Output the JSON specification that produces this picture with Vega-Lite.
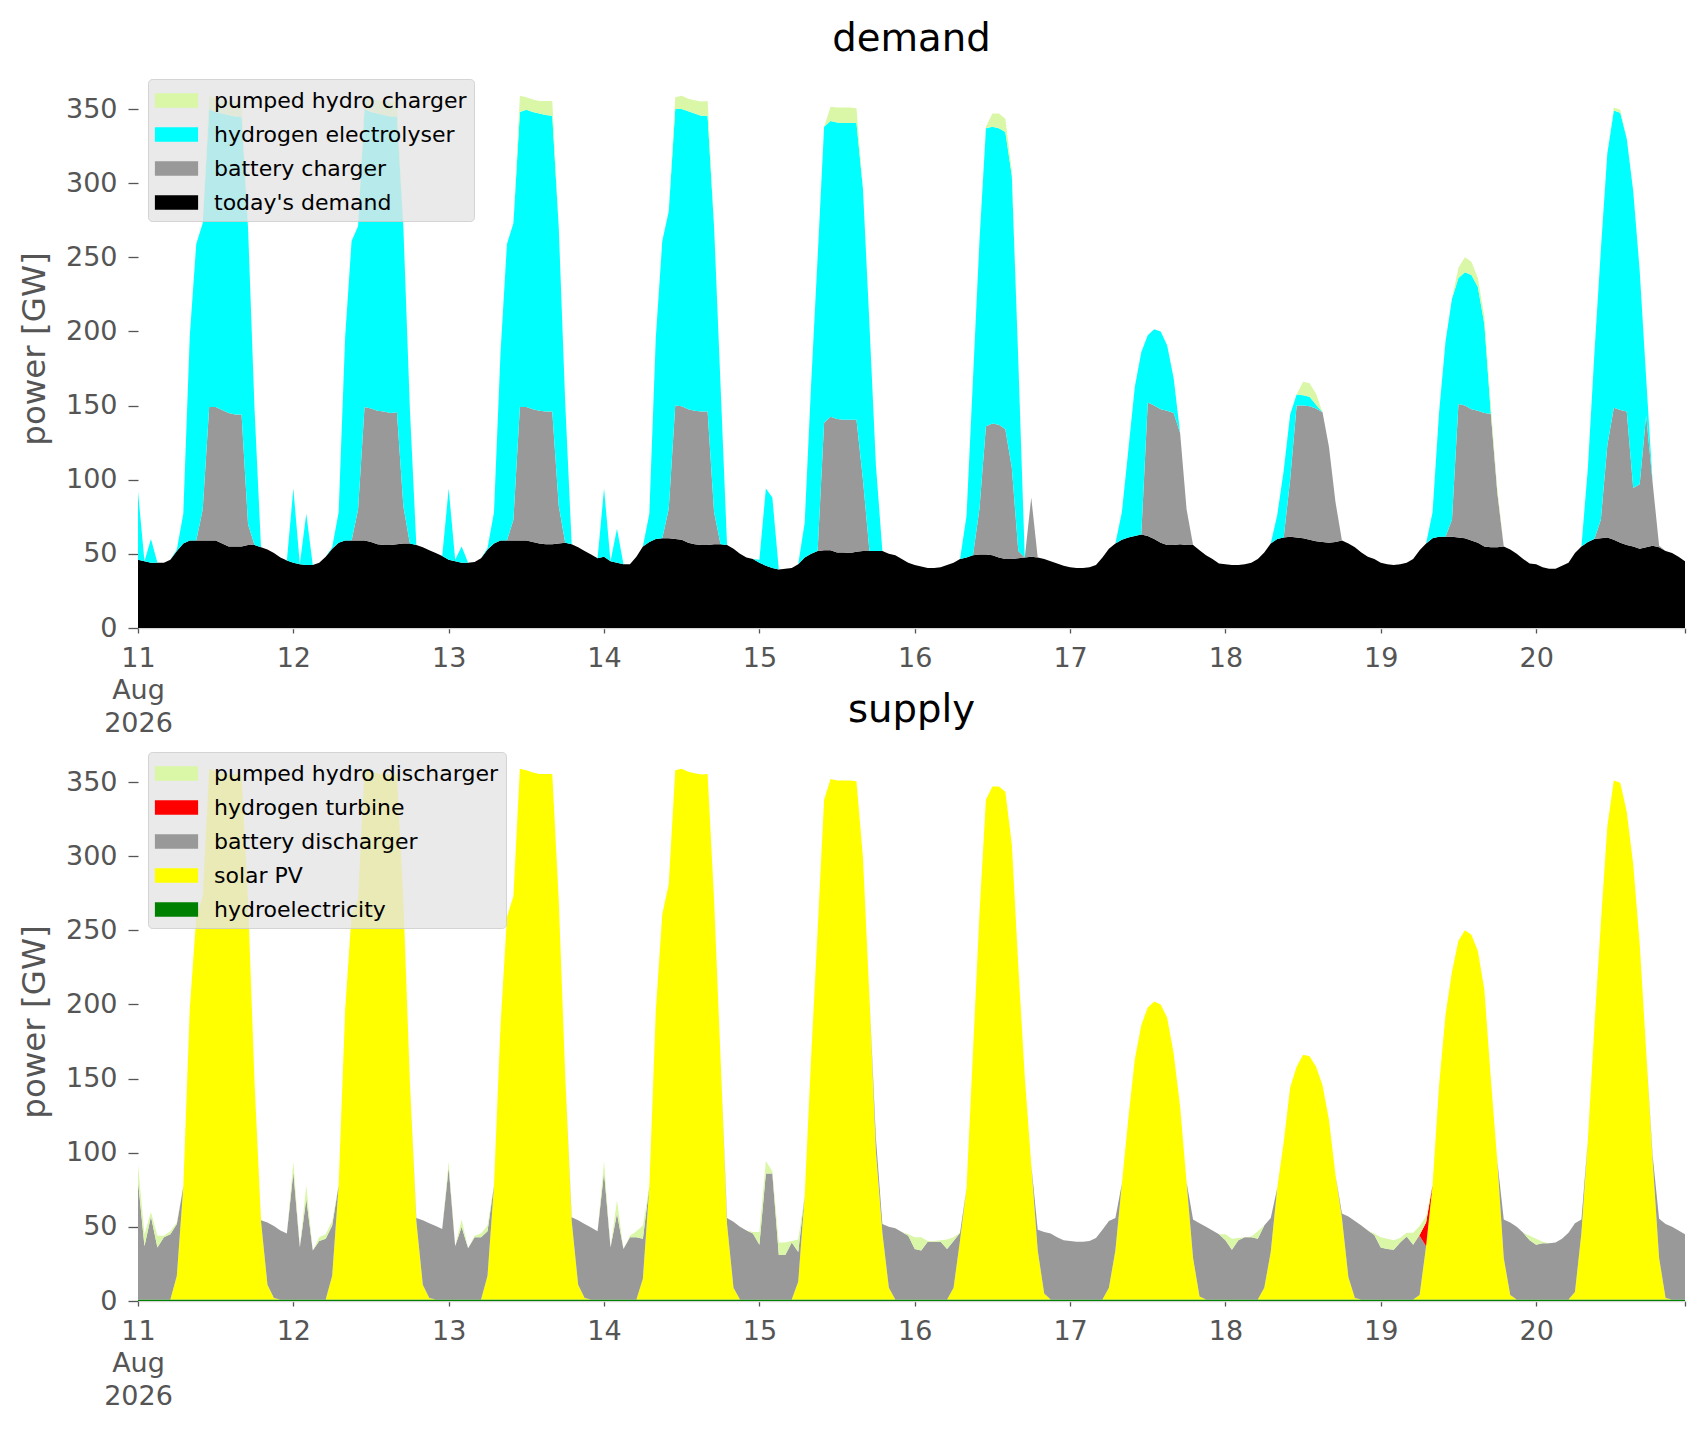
{
  "$schema": "https://vega.github.io/schema/vega-lite/v6.json",
  "background": "white",
  "padding": {"left": 18, "top": 20, "right": 20, "bottom": 10},
  "config": {
    "view": {"stroke": null},
    "font": "DejaVu Sans",
    "axis": {
      "labelFont": "DejaVu Sans",
      "titleFont": "DejaVu Sans",
      "labelFontSize": 27,
      "labelColor": "#555555",
      "tickColor": "#555555",
      "tickWidth": 1.3,
      "grid": false,
      "titleFontWeight": "normal"
    },
    "title": {"font": "DejaVu Sans", "fontSize": 38.6, "fontWeight": "normal", "color": "#000000", "anchor": "middle", "frame": "group"},
    "legend": {
      "orient": "top-left",
      "offset": 10,
      "title": null,
      "padding": 7,
      "fillColor": "rgba(229,229,229,0.8)",
      "strokeColor": "rgba(204,204,204,0.8)",
      "cornerRadius": 4,
      "labelFont": "DejaVu Sans",
      "labelFontSize": 22,
      "labelColor": "#000000",
      "labelLimit": 0,
      "symbolType": "M-1.5,-0.5H1.5V0.5H-1.5Z",
      "symbolSize": 830,
      "symbolOffset": 7,
      "symbolStrokeWidth": 0,
      "symbolOpacity": 1,
      "labelOffset": 23,
      "rowPadding": 8
    }
  },
  "data": {
    "values": [
      {"t":"2026-08-11T00:00","d":46,"b":0,"e":46,"p":0,"w":1,"s":0,"k":80,"r":0,"g":11},
      {"t":"2026-08-11T01:00","d":45,"b":0,"e":0,"p":0,"w":1,"s":0,"k":36,"r":0,"g":8},
      {"t":"2026-08-11T02:00","d":44,"b":0,"e":16,"p":0,"w":1,"s":0,"k":56,"r":0,"g":3},
      {"t":"2026-08-11T03:00","d":44,"b":0,"e":0,"p":0,"w":1,"s":0,"k":35,"r":0,"g":8},
      {"t":"2026-08-11T04:00","d":44,"b":0,"e":0,"p":0,"w":1,"s":0,"k":42,"r":0,"g":1},
      {"t":"2026-08-11T05:00","d":46,"b":0,"e":0,"p":0,"w":1,"s":0,"k":44,"r":0,"g":2},
      {"t":"2026-08-11T06:00","d":52,"b":0,"e":1,"p":0,"w":1,"s":16,"k":35,"r":0,"g":1},
      {"t":"2026-08-11T07:00","d":57,"b":0,"e":20,"p":0,"w":1,"s":76,"k":0,"r":0,"g":0},
      {"t":"2026-08-11T08:00","d":59,"b":0,"e":138,"p":0,"w":1,"s":196,"k":0,"r":0,"g":0},
      {"t":"2026-08-11T09:00","d":59,"b":0,"e":200,"p":0,"w":1,"s":258,"k":0,"r":0,"g":0},
      {"t":"2026-08-11T10:00","d":59,"b":21,"e":193,"p":0,"w":1,"s":272,"k":0,"r":0,"g":0},
      {"t":"2026-08-11T11:00","d":59,"b":90,"e":201,"p":9,"w":1,"s":358,"k":0,"r":0,"g":0},
      {"t":"2026-08-11T12:00","d":59,"b":90,"e":199,"p":9,"w":1,"s":356,"k":0,"r":0,"g":0},
      {"t":"2026-08-11T13:00","d":57,"b":90,"e":200,"p":9,"w":1,"s":355,"k":0,"r":0,"g":0},
      {"t":"2026-08-11T14:00","d":55,"b":90,"e":201,"p":9,"w":1,"s":354,"k":0,"r":0,"g":0},
      {"t":"2026-08-11T15:00","d":55,"b":89,"e":201,"p":10,"w":1,"s":354,"k":0,"r":0,"g":0},
      {"t":"2026-08-11T16:00","d":55,"b":89,"e":201,"p":10,"w":1,"s":354,"k":0,"r":0,"g":0},
      {"t":"2026-08-11T17:00","d":56,"b":14,"e":200,"p":0,"w":1,"s":269,"k":0,"r":0,"g":0},
      {"t":"2026-08-11T18:00","d":56,"b":0,"e":92,"p":0,"w":1,"s":147,"k":0,"r":0,"g":0},
      {"t":"2026-08-11T19:00","d":54.5,"b":0,"e":0,"p":0,"w":1,"s":53,"k":0.5,"r":0,"g":0},
      {"t":"2026-08-11T20:00","d":53,"b":0,"e":0,"p":0,"w":1,"s":10,"k":42,"r":0,"g":0},
      {"t":"2026-08-11T21:00","d":50.5,"b":0,"e":0,"p":0,"w":1,"s":1,"k":48.5,"r":0,"g":0},
      {"t":"2026-08-11T22:00","d":47.5,"b":0,"e":0,"p":0,"w":1,"s":0,"k":46.5,"r":0,"g":0},
      {"t":"2026-08-11T23:00","d":45.5,"b":0,"e":0,"p":0,"w":1,"s":0,"k":44.5,"r":0,"g":0},
      {"t":"2026-08-12T00:00","d":44,"b":0,"e":50,"p":0,"w":1,"s":0,"k":86,"r":0,"g":7},
      {"t":"2026-08-12T01:00","d":43,"b":0,"e":0,"p":0,"w":1,"s":0,"k":35,"r":0,"g":0},
      {"t":"2026-08-12T02:00","d":42.5,"b":0,"e":34.5,"p":0,"w":1,"s":0,"k":68,"r":0,"g":9},
      {"t":"2026-08-12T03:00","d":42.5,"b":0,"e":0,"p":0,"w":1,"s":0,"k":33,"r":0,"g":0},
      {"t":"2026-08-12T04:00","d":44,"b":0,"e":0,"p":0,"w":1,"s":0,"k":39.5,"r":0,"g":2.5},
      {"t":"2026-08-12T05:00","d":48,"b":0,"e":0,"p":0,"w":1,"s":0,"k":41,"r":0,"g":3},
      {"t":"2026-08-12T06:00","d":53.5,"b":0,"e":1,"p":0,"w":1,"s":16,"k":34,"r":0,"g":3},
      {"t":"2026-08-12T07:00","d":57.5,"b":0,"e":20.5,"p":0,"w":1,"s":77,"k":0,"r":0,"g":0},
      {"t":"2026-08-12T08:00","d":59,"b":0,"e":137,"p":0,"w":1,"s":195,"k":0,"r":0,"g":0},
      {"t":"2026-08-12T09:00","d":59,"b":0,"e":202,"p":0,"w":1,"s":260,"k":0,"r":0,"g":0},
      {"t":"2026-08-12T10:00","d":59,"b":21,"e":191,"p":0,"w":1,"s":270,"k":0,"r":0,"g":0},
      {"t":"2026-08-12T11:00","d":59,"b":90,"e":201,"p":9,"w":1,"s":358,"k":0,"r":0,"g":0},
      {"t":"2026-08-12T12:00","d":58,"b":90,"e":200,"p":9,"w":1,"s":356,"k":0,"r":0,"g":0},
      {"t":"2026-08-12T13:00","d":56.5,"b":90,"e":200.5,"p":9,"w":1,"s":355,"k":0,"r":0,"g":0},
      {"t":"2026-08-12T14:00","d":56,"b":90,"e":200,"p":9,"w":1,"s":354,"k":0,"r":0,"g":0},
      {"t":"2026-08-12T15:00","d":56,"b":89,"e":200,"p":10,"w":1,"s":354,"k":0,"r":0,"g":0},
      {"t":"2026-08-12T16:00","d":56.5,"b":89,"e":199.5,"p":10,"w":1,"s":354,"k":0,"r":0,"g":0},
      {"t":"2026-08-12T17:00","d":57,"b":25,"e":188,"p":0,"w":1,"s":269,"k":0,"r":0,"g":0},
      {"t":"2026-08-12T18:00","d":57,"b":0,"e":91,"p":0,"w":1,"s":147,"k":0,"r":0,"g":0},
      {"t":"2026-08-12T19:00","d":56,"b":0,"e":0,"p":0,"w":1,"s":53,"k":2,"r":0,"g":0},
      {"t":"2026-08-12T20:00","d":54.5,"b":0,"e":0,"p":0,"w":1,"s":10,"k":43.5,"r":0,"g":0},
      {"t":"2026-08-12T21:00","d":52.5,"b":0,"e":0,"p":0,"w":1,"s":1,"k":50.5,"r":0,"g":0},
      {"t":"2026-08-12T22:00","d":50.5,"b":0,"e":0,"p":0,"w":1,"s":0,"k":49.5,"r":0,"g":0},
      {"t":"2026-08-12T23:00","d":48.5,"b":0,"e":0,"p":0,"w":1,"s":0,"k":47.5,"r":0,"g":0},
      {"t":"2026-08-13T00:00","d":46,"b":0,"e":48,"p":0,"w":1,"s":0,"k":89,"r":0,"g":4},
      {"t":"2026-08-13T01:00","d":45,"b":0,"e":1,"p":0,"w":1,"s":0,"k":36,"r":0,"g":0},
      {"t":"2026-08-13T02:00","d":44,"b":0,"e":11,"p":0,"w":1,"s":0,"k":49,"r":0,"g":5},
      {"t":"2026-08-13T03:00","d":44,"b":0,"e":0,"p":0,"w":1,"s":0,"k":34.5,"r":0,"g":0},
      {"t":"2026-08-13T04:00","d":44.5,"b":0,"e":0,"p":0,"w":1,"s":0,"k":42,"r":0,"g":1},
      {"t":"2026-08-13T05:00","d":47,"b":0,"e":0,"p":0,"w":1,"s":0,"k":42,"r":0,"g":2.5},
      {"t":"2026-08-13T06:00","d":53,"b":0,"e":1,"p":0,"w":1,"s":16,"k":30,"r":0,"g":4},
      {"t":"2026-08-13T07:00","d":57,"b":0,"e":21,"p":0,"w":1,"s":77,"k":0,"r":0,"g":0},
      {"t":"2026-08-13T08:00","d":59,"b":0,"e":126,"p":0,"w":1,"s":184,"k":0,"r":0,"g":0},
      {"t":"2026-08-13T09:00","d":59,"b":0,"e":200,"p":0,"w":1,"s":258,"k":0,"r":0,"g":0},
      {"t":"2026-08-13T10:00","d":59,"b":14,"e":200,"p":0,"w":1,"s":272,"k":0,"r":0,"g":0},
      {"t":"2026-08-13T11:00","d":59,"b":90,"e":199,"p":11,"w":1,"s":358,"k":0,"r":0,"g":0},
      {"t":"2026-08-13T12:00","d":59,"b":90,"e":200.5,"p":8.5,"w":1,"s":357,"k":0,"r":0,"g":0},
      {"t":"2026-08-13T13:00","d":58,"b":89.5,"e":200.5,"p":8.5,"w":1,"s":355.5,"k":0,"r":0,"g":0},
      {"t":"2026-08-13T14:00","d":57,"b":89.5,"e":200.5,"p":8.5,"w":1,"s":354.5,"k":0,"r":0,"g":0},
      {"t":"2026-08-13T15:00","d":56.5,"b":89.5,"e":200,"p":9.5,"w":1,"s":354.5,"k":0,"r":0,"g":0},
      {"t":"2026-08-13T16:00","d":56.5,"b":89.5,"e":199.5,"p":10,"w":1,"s":354.5,"k":0,"r":0,"g":0},
      {"t":"2026-08-13T17:00","d":57,"b":25.5,"e":188,"p":0,"w":1,"s":269.5,"k":0,"r":0,"g":0},
      {"t":"2026-08-13T18:00","d":57.5,"b":0,"e":94.5,"p":0,"w":1,"s":151,"k":0,"r":0,"g":0},
      {"t":"2026-08-13T19:00","d":56.5,"b":0,"e":0,"p":0,"w":1,"s":53,"k":2.5,"r":0,"g":0},
      {"t":"2026-08-13T20:00","d":54.5,"b":0,"e":0,"p":0,"w":1,"s":10,"k":43.5,"r":0,"g":0},
      {"t":"2026-08-13T21:00","d":52,"b":0,"e":0,"p":0,"w":1,"s":1,"k":50,"r":0,"g":0},
      {"t":"2026-08-13T22:00","d":49.5,"b":0,"e":0,"p":0,"w":1,"s":0,"k":48.5,"r":0,"g":0},
      {"t":"2026-08-13T23:00","d":47,"b":0,"e":0,"p":0,"w":1,"s":0,"k":46,"r":0,"g":0},
      {"t":"2026-08-14T00:00","d":48,"b":0,"e":46,"p":0,"w":1,"s":0,"k":86,"r":0,"g":7},
      {"t":"2026-08-14T01:00","d":45,"b":0,"e":0,"p":0,"w":1,"s":0,"k":35,"r":0,"g":0},
      {"t":"2026-08-14T02:00","d":44,"b":0,"e":23,"p":0,"w":1,"s":0,"k":58,"r":0,"g":9},
      {"t":"2026-08-14T03:00","d":43,"b":0,"e":0,"p":0,"w":1,"s":0,"k":34,"r":0,"g":0},
      {"t":"2026-08-14T04:00","d":43,"b":0,"e":0,"p":0,"w":1,"s":0,"k":42,"r":0,"g":1},
      {"t":"2026-08-14T05:00","d":48,"b":0,"e":0,"p":0,"w":1,"s":0,"k":42,"r":0,"g":4},
      {"t":"2026-08-14T06:00","d":55,"b":0,"e":0,"p":0,"w":1,"s":14,"k":27,"r":0,"g":9},
      {"t":"2026-08-14T07:00","d":58,"b":0,"e":19,"p":0,"w":1,"s":76,"k":0,"r":0,"g":0},
      {"t":"2026-08-14T08:00","d":60,"b":0,"e":136,"p":0,"w":1,"s":195,"k":0,"r":0,"g":0},
      {"t":"2026-08-14T09:00","d":60.5,"b":0,"e":200.5,"p":0,"w":1,"s":260,"k":0,"r":0,"g":0},
      {"t":"2026-08-14T10:00","d":60.5,"b":20,"e":200.5,"p":0,"w":1,"s":280,"k":0,"r":0,"g":0},
      {"t":"2026-08-14T11:00","d":60,"b":90,"e":200,"p":8,"w":1,"s":357,"k":0,"r":0,"g":0},
      {"t":"2026-08-14T12:00","d":59.5,"b":90,"e":200.5,"p":9,"w":1,"s":358,"k":0,"r":0,"g":0},
      {"t":"2026-08-14T13:00","d":57.5,"b":90,"e":201,"p":8.5,"w":1,"s":356,"k":0,"r":0,"g":0},
      {"t":"2026-08-14T14:00","d":56.5,"b":90,"e":200.5,"p":9,"w":1,"s":355,"k":0,"r":0,"g":0},
      {"t":"2026-08-14T15:00","d":56,"b":90,"e":199.5,"p":9.5,"w":1,"s":354,"k":0,"r":0,"g":0},
      {"t":"2026-08-14T16:00","d":56,"b":90,"e":199.5,"p":10,"w":1,"s":354.5,"k":0,"r":0,"g":0},
      {"t":"2026-08-14T17:00","d":56.5,"b":21.5,"e":192.5,"p":0,"w":1,"s":269.5,"k":0,"r":0,"g":0},
      {"t":"2026-08-14T18:00","d":56.5,"b":0,"e":107,"p":0,"w":1,"s":162.5,"k":0,"r":0,"g":0},
      {"t":"2026-08-14T19:00","d":56,"b":0,"e":0,"p":0,"w":1,"s":51,"k":4,"r":0,"g":0},
      {"t":"2026-08-14T20:00","d":53.5,"b":0,"e":0,"p":0,"w":1,"s":8,"k":44.5,"r":0,"g":0},
      {"t":"2026-08-14T21:00","d":50,"b":0,"e":0,"p":0,"w":1,"s":0,"k":49,"r":0,"g":0},
      {"t":"2026-08-14T22:00","d":47.5,"b":0,"e":0,"p":0,"w":1,"s":0,"k":46.5,"r":0,"g":0},
      {"t":"2026-08-14T23:00","d":46.5,"b":0,"e":0,"p":0,"w":1,"s":0,"k":44.5,"r":0,"g":1},
      {"t":"2026-08-15T00:00","d":44,"b":0,"e":2,"p":0,"w":1,"s":0,"k":37,"r":0,"g":8.5},
      {"t":"2026-08-15T01:00","d":42,"b":0,"e":52,"p":0,"w":1,"s":0,"k":85,"r":0,"g":8.5},
      {"t":"2026-08-15T02:00","d":40.5,"b":0,"e":47.5,"p":0,"w":1,"s":0,"k":85,"r":0,"g":1.5},
      {"t":"2026-08-15T03:00","d":39.5,"b":0,"e":0,"p":0,"w":1,"s":0,"k":30,"r":0,"g":8.5},
      {"t":"2026-08-15T04:00","d":40,"b":0,"e":0,"p":0,"w":1,"s":0,"k":30,"r":0,"g":8.5},
      {"t":"2026-08-15T05:00","d":40.5,"b":0,"e":0,"p":0,"w":1,"s":0,"k":38.5,"r":0,"g":1},
      {"t":"2026-08-15T06:00","d":43,"b":0,"e":0,"p":0,"w":1,"s":12,"k":20,"r":0,"g":8.5},
      {"t":"2026-08-15T07:00","d":47.5,"b":0,"e":23.5,"p":0,"w":1,"s":70,"k":0,"r":0,"g":0},
      {"t":"2026-08-15T08:00","d":50,"b":0,"e":115,"p":0,"w":1,"s":164,"k":0,"r":0,"g":0},
      {"t":"2026-08-15T09:00","d":52,"b":0,"e":198,"p":0,"w":1,"s":249,"k":0,"r":0,"g":0},
      {"t":"2026-08-15T10:00","d":52.5,"b":86,"e":199.5,"p":0,"w":1,"s":337,"k":0,"r":0,"g":0},
      {"t":"2026-08-15T11:00","d":52.5,"b":90,"e":199.5,"p":9.5,"w":1,"s":351,"k":0,"r":0,"g":0},
      {"t":"2026-08-15T12:00","d":51,"b":90,"e":200,"p":10,"w":1,"s":350,"k":0,"r":0,"g":0},
      {"t":"2026-08-15T13:00","d":51,"b":89.5,"e":200,"p":10.5,"w":1,"s":350,"k":0,"r":0,"g":0},
      {"t":"2026-08-15T14:00","d":50.5,"b":90,"e":200,"p":10.5,"w":1,"s":350,"k":0,"r":0,"g":0},
      {"t":"2026-08-15T15:00","d":51.5,"b":89,"e":200,"p":10,"w":1,"s":349.5,"k":0,"r":0,"g":0},
      {"t":"2026-08-15T16:00","d":52,"b":48,"e":196,"p":0,"w":1,"s":298,"k":0,"r":0,"g":0},
      {"t":"2026-08-15T17:00","d":52,"b":0,"e":153,"p":0,"w":1,"s":204,"k":0,"r":0,"g":0},
      {"t":"2026-08-15T18:00","d":52,"b":0,"e":58,"p":0,"w":1,"s":100,"k":9,"r":0,"g":0},
      {"t":"2026-08-15T19:00","d":52,"b":0,"e":0,"p":0,"w":1,"s":45,"k":6,"r":0,"g":0},
      {"t":"2026-08-15T20:00","d":50,"b":0,"e":0,"p":0,"w":1,"s":8,"k":41,"r":0,"g":0},
      {"t":"2026-08-15T21:00","d":49,"b":0,"e":0,"p":0,"w":1,"s":0,"k":48,"r":0,"g":0},
      {"t":"2026-08-15T22:00","d":46.5,"b":0,"e":0,"p":0,"w":1,"s":0,"k":45.5,"r":0,"g":0},
      {"t":"2026-08-15T23:00","d":44,"b":0,"e":0,"p":0,"w":1,"s":0,"k":43,"r":0,"g":1},
      {"t":"2026-08-16T00:00","d":42.5,"b":0,"e":0,"p":0,"w":1,"s":0,"k":34,"r":0,"g":8},
      {"t":"2026-08-16T01:00","d":41.5,"b":0,"e":0,"p":0,"w":1,"s":0,"k":33,"r":0,"g":9},
      {"t":"2026-08-16T02:00","d":40.5,"b":0,"e":0,"p":0,"w":1,"s":0,"k":39,"r":0,"g":0.5},
      {"t":"2026-08-16T03:00","d":40.5,"b":0,"e":0,"p":0,"w":1,"s":0,"k":39,"r":0,"g":0.5},
      {"t":"2026-08-16T04:00","d":41,"b":0,"e":0,"p":0,"w":1,"s":0,"k":39,"r":0,"g":1},
      {"t":"2026-08-16T05:00","d":42.5,"b":0,"e":0,"p":0,"w":1,"s":0,"k":34,"r":0,"g":6.5},
      {"t":"2026-08-16T06:00","d":44,"b":0,"e":0,"p":0,"w":1,"s":8,"k":31.5,"r":0,"g":2.5},
      {"t":"2026-08-16T07:00","d":46.5,"b":0,"e":0,"p":0,"w":1,"s":40,"k":5,"r":0,"g":0},
      {"t":"2026-08-16T08:00","d":47.5,"b":0,"e":28,"p":0,"w":1,"s":75,"k":0,"r":0,"g":0},
      {"t":"2026-08-16T09:00","d":49,"b":0,"e":119,"p":0,"w":1,"s":167,"k":0,"r":0,"g":0},
      {"t":"2026-08-16T10:00","d":49.5,"b":31,"e":180.5,"p":0,"w":1,"s":260,"k":0,"r":0,"g":0},
      {"t":"2026-08-16T11:00","d":49.5,"b":86.5,"e":201,"p":1,"w":1,"s":337,"k":0,"r":0,"g":0},
      {"t":"2026-08-16T12:00","d":49,"b":89,"e":200,"p":9,"w":1,"s":346,"k":0,"r":0,"g":0},
      {"t":"2026-08-16T13:00","d":47.5,"b":89.5,"e":200,"p":10,"w":1,"s":346,"k":0,"r":0,"g":0},
      {"t":"2026-08-16T14:00","d":46.5,"b":87.5,"e":200.5,"p":9,"w":1,"s":342.5,"k":0,"r":0,"g":0},
      {"t":"2026-08-16T15:00","d":46.5,"b":61.5,"e":197,"p":3,"w":1,"s":307,"k":0,"r":0,"g":0},
      {"t":"2026-08-16T16:00","d":47,"b":5,"e":128,"p":0,"w":1,"s":225,"k":0,"r":0,"g":0},
      {"t":"2026-08-16T17:00","d":47.5,"b":0,"e":0,"p":0,"w":1,"s":150,"k":0,"r":0,"g":0},
      {"t":"2026-08-16T18:00","d":48,"b":40,"e":0,"p":0,"w":1,"s":91,"k":0,"r":0,"g":0},
      {"t":"2026-08-16T19:00","d":47.5,"b":0,"e":0,"p":0,"w":1,"s":33,"k":14,"r":0,"g":0},
      {"t":"2026-08-16T20:00","d":46.5,"b":0,"e":0,"p":0,"w":1,"s":4,"k":41.5,"r":0,"g":0},
      {"t":"2026-08-16T21:00","d":45,"b":0,"e":0,"p":0,"w":1,"s":0,"k":44.5,"r":0,"g":0},
      {"t":"2026-08-16T22:00","d":43.5,"b":0,"e":0,"p":0,"w":1,"s":0,"k":42,"r":0,"g":0},
      {"t":"2026-08-16T23:00","d":42,"b":0,"e":0,"p":0,"w":1,"s":0,"k":40,"r":0,"g":0},
      {"t":"2026-08-17T00:00","d":41,"b":0,"e":0,"p":0,"w":1,"s":0,"k":39.5,"r":0,"g":0},
      {"t":"2026-08-17T01:00","d":40.5,"b":0,"e":0,"p":0,"w":1,"s":0,"k":39,"r":0,"g":0},
      {"t":"2026-08-17T02:00","d":40.5,"b":0,"e":0,"p":0,"w":1,"s":0,"k":39,"r":0,"g":0},
      {"t":"2026-08-17T03:00","d":41,"b":0,"e":0,"p":0,"w":1,"s":0,"k":39.5,"r":0,"g":0},
      {"t":"2026-08-17T04:00","d":42.5,"b":0,"e":0,"p":0,"w":1,"s":0,"k":41.5,"r":0,"g":0},
      {"t":"2026-08-17T05:00","d":47.5,"b":0,"e":0,"p":0,"w":1,"s":0,"k":47,"r":0,"g":0},
      {"t":"2026-08-17T06:00","d":53.5,"b":0,"e":0,"p":0,"w":1,"s":8,"k":45,"r":0,"g":0},
      {"t":"2026-08-17T07:00","d":57,"b":0,"e":0,"p":0,"w":1,"s":33,"k":22,"r":0,"g":0},
      {"t":"2026-08-17T08:00","d":59.5,"b":0,"e":18.5,"p":0,"w":1,"s":78,"k":0,"r":0,"g":0},
      {"t":"2026-08-17T09:00","d":61,"b":0,"e":59,"p":0,"w":1,"s":122,"k":0,"r":0,"g":0},
      {"t":"2026-08-17T10:00","d":62,"b":0,"e":100.5,"p":0,"w":1,"s":162,"k":0,"r":0,"g":0},
      {"t":"2026-08-17T11:00","d":63,"b":0,"e":123,"p":0,"w":1,"s":185,"k":0,"r":0,"g":0},
      {"t":"2026-08-17T12:00","d":62,"b":90,"e":45.5,"p":0,"w":1,"s":197,"k":0,"r":0,"g":0},
      {"t":"2026-08-17T13:00","d":60,"b":90,"e":51.5,"p":0,"w":1,"s":201,"k":0,"r":0,"g":0},
      {"t":"2026-08-17T14:00","d":57.5,"b":90,"e":52.5,"p":0,"w":1,"s":199,"k":0,"r":0,"g":0},
      {"t":"2026-08-17T15:00","d":56,"b":90.5,"e":44,"p":0,"w":1,"s":190,"k":0,"r":0,"g":0},
      {"t":"2026-08-17T16:00","d":56,"b":89,"e":23.5,"p":0,"w":1,"s":166,"k":0,"r":0,"g":0},
      {"t":"2026-08-17T17:00","d":56.5,"b":75,"e":0,"p":0,"w":1,"s":130,"k":0,"r":0,"g":0},
      {"t":"2026-08-17T18:00","d":56,"b":24,"e":0,"p":0,"w":1,"s":79,"k":0,"r":0,"g":0},
      {"t":"2026-08-17T19:00","d":56,"b":0,"e":0,"p":0,"w":1,"s":28,"k":26,"r":0,"g":0},
      {"t":"2026-08-17T20:00","d":52.5,"b":0,"e":0,"p":0,"w":1,"s":2,"k":49.5,"r":0,"g":0},
      {"t":"2026-08-17T21:00","d":49,"b":0,"e":0,"p":0,"w":1,"s":0,"k":49,"r":0,"g":0},
      {"t":"2026-08-17T22:00","d":46.5,"b":0,"e":0,"p":0,"w":1,"s":0,"k":46.5,"r":0,"g":0},
      {"t":"2026-08-17T23:00","d":43.5,"b":0,"e":0,"p":0,"w":1,"s":0,"k":44,"r":0,"g":0},
      {"t":"2026-08-18T00:00","d":43,"b":0,"e":0,"p":0,"w":1,"s":0,"k":40,"r":0,"g":4},
      {"t":"2026-08-18T01:00","d":42.5,"b":0,"e":0,"p":0,"w":1,"s":0,"k":33.5,"r":0,"g":7.5},
      {"t":"2026-08-18T02:00","d":42.5,"b":0,"e":0,"p":0,"w":1,"s":0,"k":40,"r":0,"g":1.5},
      {"t":"2026-08-18T03:00","d":43,"b":0,"e":0,"p":0,"w":1,"s":0,"k":42,"r":0,"g":0},
      {"t":"2026-08-18T04:00","d":44,"b":0,"e":0,"p":0,"w":1,"s":0,"k":42,"r":0,"g":0.5},
      {"t":"2026-08-18T05:00","d":46.5,"b":0,"e":0,"p":0,"w":1,"s":0,"k":41,"r":0,"g":5},
      {"t":"2026-08-18T06:00","d":51,"b":0,"e":0,"p":0,"w":1,"s":8,"k":42,"r":0,"g":0},
      {"t":"2026-08-18T07:00","d":57,"b":0,"e":0,"p":0,"w":1,"s":32,"k":23,"r":0,"g":0},
      {"t":"2026-08-18T08:00","d":60,"b":0,"e":16,"p":0,"w":1,"s":75,"k":0,"r":0,"g":0},
      {"t":"2026-08-18T09:00","d":61,"b":0,"e":45,"p":0,"w":1,"s":106,"k":0,"r":0,"g":0},
      {"t":"2026-08-18T10:00","d":61.5,"b":38.5,"e":44,"p":0,"w":1,"s":143,"k":0,"r":0,"g":0},
      {"t":"2026-08-18T11:00","d":61,"b":89,"e":7.5,"p":0,"w":1,"s":157,"k":0,"r":0,"g":0},
      {"t":"2026-08-18T12:00","d":60.5,"b":89.5,"e":7,"p":9,"w":1,"s":165,"k":0,"r":0,"g":0},
      {"t":"2026-08-18T13:00","d":59.5,"b":90,"e":6.5,"p":9,"w":1,"s":164,"k":0,"r":0,"g":0},
      {"t":"2026-08-18T14:00","d":58.5,"b":89.5,"e":2.5,"p":7.5,"w":1,"s":157,"k":0,"r":0,"g":0},
      {"t":"2026-08-18T15:00","d":58,"b":87.5,"e":0,"p":0,"w":1,"s":144.5,"k":0,"r":0,"g":0},
      {"t":"2026-08-18T16:00","d":57.5,"b":64.5,"e":0,"p":0,"w":1,"s":121,"k":0,"r":0,"g":0},
      {"t":"2026-08-18T17:00","d":58,"b":27,"e":0,"p":0,"w":1,"s":84,"k":0,"r":0,"g":0},
      {"t":"2026-08-18T18:00","d":59,"b":0,"e":0,"p":0,"w":1,"s":55,"k":3,"r":0,"g":0},
      {"t":"2026-08-18T19:00","d":57,"b":0,"e":0,"p":0,"w":1,"s":15,"k":41,"r":0,"g":0},
      {"t":"2026-08-18T20:00","d":54.5,"b":0,"e":0,"p":0,"w":1,"s":1,"k":52,"r":0,"g":0},
      {"t":"2026-08-18T21:00","d":51,"b":0,"e":0,"p":0,"w":1,"s":0,"k":50,"r":0,"g":0},
      {"t":"2026-08-18T22:00","d":48,"b":0,"e":0,"p":0,"w":1,"s":0,"k":46.5,"r":0,"g":0},
      {"t":"2026-08-18T23:00","d":46.5,"b":0,"e":0,"p":0,"w":1,"s":0,"k":43.5,"r":0,"g":1},
      {"t":"2026-08-19T00:00","d":44,"b":0,"e":0,"p":0,"w":1,"s":0,"k":35,"r":0,"g":7},
      {"t":"2026-08-19T01:00","d":43,"b":0,"e":0,"p":0,"w":1,"s":0,"k":34,"r":0,"g":7},
      {"t":"2026-08-19T02:00","d":42.5,"b":0,"e":0,"p":0,"w":1,"s":0,"k":33.5,"r":0,"g":6.5},
      {"t":"2026-08-19T03:00","d":43,"b":0,"e":0,"p":0,"w":1,"s":0,"k":38.5,"r":0,"g":3},
      {"t":"2026-08-19T04:00","d":44,"b":0,"e":0,"p":0,"w":1,"s":0,"k":42.5,"r":0,"g":2.5},
      {"t":"2026-08-19T05:00","d":46.5,"b":0,"e":0,"p":0,"w":1,"s":0,"k":37,"r":0,"g":8},
      {"t":"2026-08-19T06:00","d":52.5,"b":0,"e":0,"p":0,"w":1,"s":3,"k":40,"r":0.5,"g":6},
      {"t":"2026-08-19T07:00","d":57,"b":0,"e":0,"p":0,"w":1,"s":36,"k":0,"r":16,"g":4},
      {"t":"2026-08-19T08:00","d":60.5,"b":0,"e":17.5,"p":0,"w":1,"s":77,"k":0,"r":0,"g":0},
      {"t":"2026-08-19T09:00","d":61.5,"b":0,"e":83.5,"p":0,"w":1,"s":144,"k":0,"r":0,"g":0},
      {"t":"2026-08-19T10:00","d":61.5,"b":0,"e":131.5,"p":0,"w":1,"s":192,"k":0,"r":0,"g":0},
      {"t":"2026-08-19T11:00","d":61.5,"b":11.5,"e":149,"p":0,"w":1,"s":221,"k":0,"r":0,"g":0},
      {"t":"2026-08-19T12:00","d":61,"b":90,"e":85,"p":7,"w":1,"s":242,"k":0,"r":0,"g":0},
      {"t":"2026-08-19T13:00","d":60.5,"b":89.5,"e":90,"p":10,"w":1,"s":249,"k":0,"r":0,"g":0},
      {"t":"2026-08-19T14:00","d":59,"b":88.5,"e":90.5,"p":9,"w":1,"s":246,"k":0,"r":0,"g":0},
      {"t":"2026-08-19T15:00","d":57.5,"b":89,"e":83.5,"p":6,"w":1,"s":235,"k":0,"r":0,"g":0},
      {"t":"2026-08-19T16:00","d":55,"b":90,"e":60,"p":5,"w":1,"s":209,"k":0,"r":0,"g":0},
      {"t":"2026-08-19T17:00","d":54.5,"b":90,"e":0.5,"p":5,"w":1,"s":149,"k":0,"r":0,"g":0},
      {"t":"2026-08-19T18:00","d":54.5,"b":37,"e":0,"p":3,"w":1,"s":93.5,"k":0,"r":0,"g":0},
      {"t":"2026-08-19T19:00","d":55,"b":0,"e":0,"p":0,"w":1,"s":28,"k":26,"r":0,"g":0},
      {"t":"2026-08-19T20:00","d":53,"b":0,"e":0,"p":0,"w":1,"s":3,"k":49,"r":0,"g":0},
      {"t":"2026-08-19T21:00","d":50,"b":0,"e":0,"p":0,"w":1,"s":0,"k":49,"r":0,"g":0},
      {"t":"2026-08-19T22:00","d":46.5,"b":0,"e":0,"p":0,"w":1,"s":0,"k":45,"r":0,"g":0},
      {"t":"2026-08-19T23:00","d":43.5,"b":0,"e":0,"p":0,"w":1,"s":0,"k":40,"r":0,"g":3},
      {"t":"2026-08-20T00:00","d":43,"b":0,"e":0,"p":0,"w":1,"s":0,"k":37,"r":0,"g":4},
      {"t":"2026-08-20T01:00","d":41,"b":0,"e":0,"p":0,"w":1,"s":0,"k":38,"r":0,"g":1},
      {"t":"2026-08-20T02:00","d":40,"b":0,"e":0,"p":0,"w":1,"s":0,"k":38,"r":0,"g":0},
      {"t":"2026-08-20T03:00","d":40,"b":0,"e":0,"p":0,"w":1,"s":0,"k":38.5,"r":0,"g":0},
      {"t":"2026-08-20T04:00","d":42,"b":0,"e":0,"p":0,"w":1,"s":0,"k":41,"r":0,"g":0},
      {"t":"2026-08-20T05:00","d":44,"b":0,"e":0,"p":0,"w":1,"s":0,"k":45,"r":0,"g":0},
      {"t":"2026-08-20T06:00","d":50.5,"b":0,"e":0,"p":0,"w":1,"s":5,"k":46.5,"r":0,"g":0},
      {"t":"2026-08-20T07:00","d":55,"b":0,"e":0,"p":0,"w":1,"s":45,"k":9,"r":0,"g":0},
      {"t":"2026-08-20T08:00","d":58,"b":0,"e":50,"p":0,"w":1,"s":108,"k":0,"r":0,"g":0},
      {"t":"2026-08-20T09:00","d":60,"b":0,"e":125,"p":0,"w":1,"s":184,"k":0,"r":0,"g":0},
      {"t":"2026-08-20T10:00","d":60.5,"b":12.5,"e":182,"p":0,"w":1,"s":254,"k":0,"r":0,"g":0},
      {"t":"2026-08-20T11:00","d":61,"b":62,"e":197,"p":0,"w":1,"s":319,"k":0,"r":0,"g":0},
      {"t":"2026-08-20T12:00","d":59.5,"b":89,"e":200.5,"p":2,"w":1,"s":350,"k":0,"r":0,"g":0},
      {"t":"2026-08-20T13:00","d":57.5,"b":89.5,"e":200.5,"p":2,"w":1,"s":348.5,"k":0,"r":0,"g":0},
      {"t":"2026-08-20T14:00","d":56,"b":90,"e":184,"p":0,"w":1,"s":329,"k":0,"r":0,"g":0},
      {"t":"2026-08-20T15:00","d":55,"b":39.5,"e":200,"p":0,"w":1,"s":293.5,"k":0,"r":0,"g":0},
      {"t":"2026-08-20T16:00","d":53.5,"b":43.5,"e":144,"p":0,"w":1,"s":240,"k":0,"r":0,"g":0},
      {"t":"2026-08-20T17:00","d":54.5,"b":89,"e":25,"p":0,"w":1,"s":167.5,"k":0,"r":0,"g":0},
      {"t":"2026-08-20T18:00","d":55.5,"b":42.5,"e":0,"p":0,"w":1,"s":94,"k":3,"r":0,"g":0},
      {"t":"2026-08-20T19:00","d":54.5,"b":1,"e":0,"p":0,"w":1,"s":28,"k":26.5,"r":0,"g":0},
      {"t":"2026-08-20T20:00","d":52,"b":0,"e":0,"p":0,"w":1,"s":1,"k":50,"r":0,"g":0},
      {"t":"2026-08-20T21:00","d":50.5,"b":0,"e":0,"p":0,"w":1,"s":0,"k":49,"r":0,"g":0},
      {"t":"2026-08-20T22:00","d":48,"b":0,"e":0,"p":0,"w":1,"s":0,"k":46.5,"r":0,"g":0},
      {"t":"2026-08-20T23:00","d":45,"b":0,"e":0,"p":0,"w":1,"s":0,"k":44,"r":0,"g":0}
    ]
  },
  "spacing": 114,
  "bounds": "flush",
  "resolve": {"scale": {"color": "independent"}},
  "vconcat": [
    {
      "title": {"text": "demand", "offset": 9},
      "width": 1547,
      "height": 559,
      "transform": [
        {"fold": ["d", "b", "e", "p"], "as": ["k", "v"]},
        {"lookup": "k", "from": {"data": {"values": [
          {"k": "d", "label": "today's demand", "o": 1},
          {"k": "b", "label": "battery charger", "o": 2},
          {"k": "e", "label": "hydrogen electrolyser", "o": 3},
          {"k": "p", "label": "pumped hydro charger", "o": 4}
        ]}, "key": "k", "fields": ["label", "o"]}}
      ],
      "mark": {"type": "area", "interpolate": "linear"},
      "encoding": {
        "x": {
          "field": "t", "type": "temporal", "title": null,
          "scale": {"domain": [{"year": 2026, "month": 8, "date": 11, "hours": 0}, {"year": 2026, "month": 8, "date": 20, "hours": 23}], "nice": false},
          "axis": {
            "values": [
              {"year": 2026, "month": 8, "date": 11}, {"year": 2026, "month": 8, "date": 12},
              {"year": 2026, "month": 8, "date": 13}, {"year": 2026, "month": 8, "date": 14},
              {"year": 2026, "month": 8, "date": 15}, {"year": 2026, "month": 8, "date": 16},
              {"year": 2026, "month": 8, "date": 17}, {"year": 2026, "month": 8, "date": 18},
              {"year": 2026, "month": 8, "date": 19}, {"year": 2026, "month": 8, "date": 20},
              {"year": 2026, "month": 8, "date": 20, "hours": 23}
            ],
            "labelExpr": "date(datum.value) == 11 && hours(datum.value) == 0 ? ['11', 'Aug', '2026'] : (hours(datum.value) == 23 ? '' : '' + date(datum.value))",
            "tickSize": 5,
            "labelPadding": 12,
            "labelLineHeight": 32.5,
            "labelOverlap": false,
            "labelFlush": false,
            "domainColor": "#d6d6d6",
            "domainWidth": 1.5
          }
        },
        "y": {
          "field": "v", "type": "quantitative", "stack": "zero",
          "scale": {"domain": [0, 377], "nice": false},
          "axis": {"title": "power [GW]", "values": [0, 50, 100, 150, 200, 250, 300, 350], "domain": false, "tickSize": 10, "labelPadding": 11, "titlePadding": 14, "titleFontSize": 32.5, "titleColor": "#555555"}
        },
        "color": {
          "field": "label", "type": "nominal",
          "scale": {"domain": ["pumped hydro charger", "hydrogen electrolyser", "battery charger", "today's demand"], "range": ["#d9f7a6", "#00ffff", "#999999", "#000000"]}
        },
        "order": {"field": "o", "type": "quantitative"}
      }
    },
    {
      "title": {"text": "supply", "offset": 11},
      "width": 1547,
      "height": 559,
      "transform": [
        {"fold": ["w", "s", "k", "r", "g"], "as": ["key", "v"]},
        {"lookup": "key", "from": {"data": {"values": [
          {"key": "w", "label": "hydroelectricity", "o": 1},
          {"key": "s", "label": "solar PV", "o": 2},
          {"key": "k", "label": "battery discharger", "o": 3},
          {"key": "r", "label": "hydrogen turbine", "o": 4},
          {"key": "g", "label": "pumped hydro discharger", "o": 5}
        ]}, "key": "key", "fields": ["label", "o"]}}
      ],
      "mark": {"type": "area", "interpolate": "linear"},
      "encoding": {
        "x": {
          "field": "t", "type": "temporal", "title": null,
          "scale": {"domain": [{"year": 2026, "month": 8, "date": 11, "hours": 0}, {"year": 2026, "month": 8, "date": 20, "hours": 23}], "nice": false},
          "axis": {
            "values": [
              {"year": 2026, "month": 8, "date": 11}, {"year": 2026, "month": 8, "date": 12},
              {"year": 2026, "month": 8, "date": 13}, {"year": 2026, "month": 8, "date": 14},
              {"year": 2026, "month": 8, "date": 15}, {"year": 2026, "month": 8, "date": 16},
              {"year": 2026, "month": 8, "date": 17}, {"year": 2026, "month": 8, "date": 18},
              {"year": 2026, "month": 8, "date": 19}, {"year": 2026, "month": 8, "date": 20},
              {"year": 2026, "month": 8, "date": 20, "hours": 23}
            ],
            "labelExpr": "date(datum.value) == 11 && hours(datum.value) == 0 ? ['11', 'Aug', '2026'] : (hours(datum.value) == 23 ? '' : '' + date(datum.value))",
            "tickSize": 5,
            "labelPadding": 12,
            "labelLineHeight": 32.5,
            "labelOverlap": false,
            "labelFlush": false,
            "domainColor": "#d6d6d6",
            "domainWidth": 1.5
          }
        },
        "y": {
          "field": "v", "type": "quantitative", "stack": "zero",
          "scale": {"domain": [0, 377], "nice": false},
          "axis": {"title": "power [GW]", "values": [0, 50, 100, 150, 200, 250, 300, 350], "domain": false, "tickSize": 10, "labelPadding": 11, "titlePadding": 14, "titleFontSize": 32.5, "titleColor": "#555555"}
        },
        "color": {
          "field": "label", "type": "nominal",
          "scale": {"domain": ["pumped hydro discharger", "hydrogen turbine", "battery discharger", "solar PV", "hydroelectricity"], "range": ["#d9f7a6", "#ff0000", "#999999", "#ffff00", "#008000"]}
        },
        "order": {"field": "o", "type": "quantitative"}
      }
    }
  ]
}
